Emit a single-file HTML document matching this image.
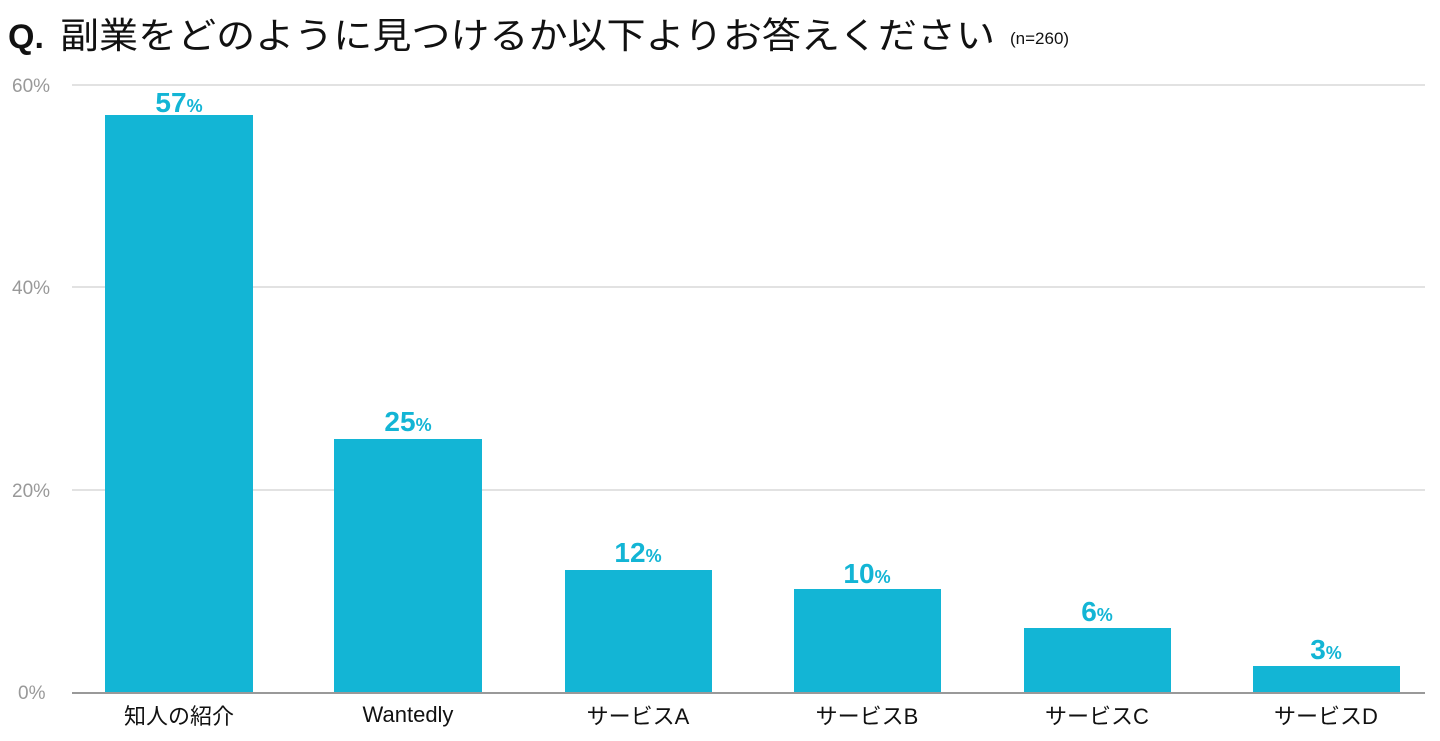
<!DOCTYPE html>
<html><head><meta charset="utf-8"><style>
html,body{margin:0;padding:0;background:#fff}
svg{display:block}
text{font-family:"Liberation Sans","Noto Sans CJK JP",sans-serif}
</style></head><body>
<svg width="1440" height="741" viewBox="0 0 1440 741">
<text x="8" y="48" font-size="34" font-weight="bold" fill="#111">Q.</text>
<text x="60" y="48" font-size="36" fill="#111" textLength="935" lengthAdjust="spacingAndGlyphs">副業をどのように見つけるか以下よりお答えください</text>
<text x="1010" y="44" font-size="17" fill="#111">(n=260)</text>
<g stroke="#e2e2e2" stroke-width="2">
<line x1="72" y1="85" x2="1425" y2="85"/>
<line x1="72" y1="287" x2="1425" y2="287"/>
<line x1="72" y1="490" x2="1425" y2="490"/>
</g>
<g font-size="19" fill="#999">
<text x="12" y="92">60%</text>
<text x="12" y="294">40%</text>
<text x="12" y="497">20%</text>
<text x="18" y="699">0%</text>
</g>
<g fill="#13b5d5">
<rect x="105" y="115" width="148" height="578"/>
<rect x="334" y="439" width="148" height="254"/>
<rect x="565" y="570" width="147" height="123"/>
<rect x="794" y="589" width="147" height="104"/>
<rect x="1024" y="628" width="147" height="65"/>
<rect x="1253" y="666" width="147" height="27"/>
</g>
<line x1="72" y1="693" x2="1425" y2="693" stroke="#999" stroke-width="2"/>
<g fill="#13b5d5" font-weight="bold" text-anchor="middle" font-size="28">
<text x="179" y="112">57<tspan font-size="18">%</tspan></text>
<text x="408" y="431">25<tspan font-size="18">%</tspan></text>
<text x="638" y="562">12<tspan font-size="18">%</tspan></text>
<text x="867" y="583">10<tspan font-size="18">%</tspan></text>
<text x="1097" y="621">6<tspan font-size="18">%</tspan></text>
<text x="1326" y="659">3<tspan font-size="18">%</tspan></text>
</g>
<g font-size="22" fill="#111" text-anchor="middle">
<text x="179" y="724">知人の紹介</text>
<text x="408" y="722">Wantedly</text>
<text x="638" y="724">サービスA</text>
<text x="867" y="724">サービスB</text>
<text x="1097" y="724">サービスC</text>
<text x="1326" y="724">サービスD</text>
</g>
</svg>
</body></html>
